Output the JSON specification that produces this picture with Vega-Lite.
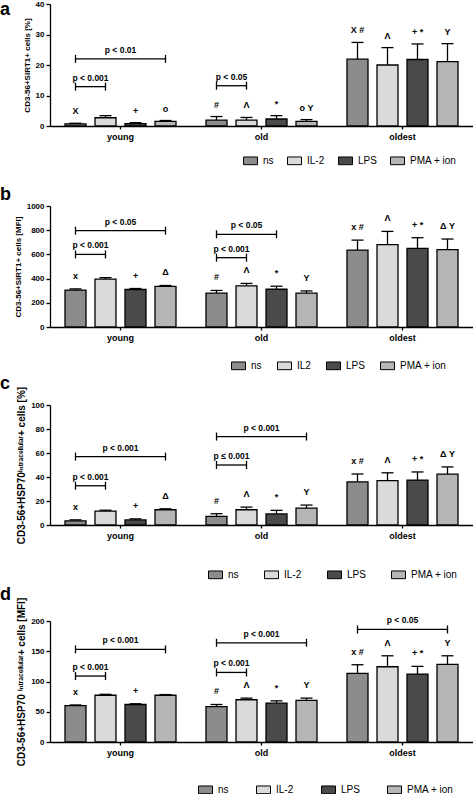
{
  "$schema": "https://vega.github.io/schema/vega-lite/v6.json",
  "padding": {"top": 0, "left": 0, "right": 0, "bottom": 0},
  "spacing": 0,
  "config": {
    "font": "Liberation Sans",
    "view": {"stroke": null},
    "axis": {"domainColor": "black", "tickColor": "black", "domainWidth": 1.3, "tickWidth": 1.3, "grid": false, "labelColor": "black", "titleColor": "black", "labelFontWeight": "bold", "titleFontWeight": "bold", "labelOverlap": false},
    "axisY": {"labelFontSize": 8, "tickSize": 4, "labelPadding": 2, "titleFontSize": 8, "titlePadding": 4, "format": "d"},
    "axisX": {"labelFontSize": 9, "tickSize": 3, "labelPadding": 3, "labelAngle": 0, "title": null},
    "legend": {"orient": "none", "direction": "horizontal", "title": null, "labelFontSize": 10, "labelColor": "black", "symbolType": "M-1,-0.55H1V0.55H-1Z", "symbolSize": 196, "symbolStrokeColor": "black", "symbolStrokeWidth": 1, "labelOffset": 5, "padding": 0},
    "title": {"anchor": "start", "frame": "group", "fontSize": 18, "fontWeight": "bold", "color": "black", "dx": -50}
  },
  "datasets": {
    "bars": [
      {"panel": "a", "group": "young", "treatment": "ns", "mean": 0.7, "upper": 0.9, "sym": "X"},
      {"panel": "a", "group": "young", "treatment": "IL-2", "mean": 2.7, "upper": 3.4, "sym": ""},
      {"panel": "a", "group": "young", "treatment": "LPS", "mean": 0.8, "upper": 1.1, "sym": "+"},
      {"panel": "a", "group": "young", "treatment": "PMA + ion", "mean": 1.5, "upper": 1.8, "sym": "o"},
      {"panel": "a", "group": "old", "treatment": "ns", "mean": 1.9, "upper": 3.1, "sym": "#"},
      {"panel": "a", "group": "old", "treatment": "IL-2", "mean": 1.9, "upper": 2.8, "sym": "Λ"},
      {"panel": "a", "group": "old", "treatment": "LPS", "mean": 2.3, "upper": 3.4, "sym": "*"},
      {"panel": "a", "group": "old", "treatment": "PMA + ion", "mean": 1.5, "upper": 2.1, "sym": "o Y"},
      {"panel": "a", "group": "oldest", "treatment": "ns", "mean": 21.9, "upper": 27.4, "sym": "X #"},
      {"panel": "a", "group": "oldest", "treatment": "IL-2", "mean": 20.0, "upper": 25.7, "sym": "Λ"},
      {"panel": "a", "group": "oldest", "treatment": "LPS", "mean": 21.8, "upper": 26.9, "sym": "+ *"},
      {"panel": "a", "group": "oldest", "treatment": "PMA + ion", "mean": 21.1, "upper": 27.0, "sym": "Y"},
      {"panel": "b", "group": "young", "treatment": "ns", "mean": 305, "upper": 315, "sym": "x"},
      {"panel": "b", "group": "young", "treatment": "IL-2", "mean": 395, "upper": 408, "sym": ""},
      {"panel": "b", "group": "young", "treatment": "LPS", "mean": 310, "upper": 318, "sym": "+"},
      {"panel": "b", "group": "young", "treatment": "PMA + ion", "mean": 335, "upper": 343, "sym": "Δ"},
      {"panel": "b", "group": "old", "treatment": "ns", "mean": 280, "upper": 302, "sym": "#"},
      {"panel": "b", "group": "old", "treatment": "IL-2", "mean": 340, "upper": 360, "sym": "Λ"},
      {"panel": "b", "group": "old", "treatment": "LPS", "mean": 312, "upper": 337, "sym": "*"},
      {"panel": "b", "group": "old", "treatment": "PMA + ion", "mean": 280, "upper": 298, "sym": "Y"},
      {"panel": "b", "group": "oldest", "treatment": "ns", "mean": 636, "upper": 718, "sym": "x #"},
      {"panel": "b", "group": "oldest", "treatment": "IL-2", "mean": 680, "upper": 790, "sym": "Λ"},
      {"panel": "b", "group": "oldest", "treatment": "LPS", "mean": 650, "upper": 738, "sym": "+ *"},
      {"panel": "b", "group": "oldest", "treatment": "PMA + ion", "mean": 640, "upper": 727, "sym": "Δ Y"},
      {"panel": "c", "group": "young", "treatment": "ns", "mean": 3.5, "upper": 4.3, "sym": "x"},
      {"panel": "c", "group": "young", "treatment": "IL-2", "mean": 11.5, "upper": 12.3, "sym": ""},
      {"panel": "c", "group": "young", "treatment": "LPS", "mean": 4.2, "upper": 5.1, "sym": "+"},
      {"panel": "c", "group": "young", "treatment": "PMA + ion", "mean": 12.7, "upper": 13.5, "sym": "Δ"},
      {"panel": "c", "group": "old", "treatment": "ns", "mean": 7.2, "upper": 9.4, "sym": "#"},
      {"panel": "c", "group": "old", "treatment": "IL-2", "mean": 12.7, "upper": 14.9, "sym": "Λ"},
      {"panel": "c", "group": "old", "treatment": "LPS", "mean": 9.2, "upper": 12.2, "sym": "*"},
      {"panel": "c", "group": "old", "treatment": "PMA + ion", "mean": 14.0, "upper": 16.6, "sym": "Y"},
      {"panel": "c", "group": "oldest", "treatment": "ns", "mean": 36.0, "upper": 42.5, "sym": "x #"},
      {"panel": "c", "group": "oldest", "treatment": "IL-2", "mean": 37.0, "upper": 43.5, "sym": "Λ"},
      {"panel": "c", "group": "oldest", "treatment": "LPS", "mean": 37.4, "upper": 44.2, "sym": "+ *"},
      {"panel": "c", "group": "oldest", "treatment": "PMA + ion", "mean": 42.4, "upper": 48.4, "sym": "Δ Y"},
      {"panel": "d", "group": "young", "treatment": "ns", "mean": 60.0, "upper": 61.2, "sym": "x"},
      {"panel": "d", "group": "young", "treatment": "IL-2", "mean": 77.3, "upper": 78.8, "sym": ""},
      {"panel": "d", "group": "young", "treatment": "LPS", "mean": 62.0, "upper": 63.2, "sym": "+"},
      {"panel": "d", "group": "young", "treatment": "PMA + ion", "mean": 77.3, "upper": 78.4, "sym": ""},
      {"panel": "d", "group": "old", "treatment": "ns", "mean": 58.6, "upper": 62.0, "sym": "#"},
      {"panel": "d", "group": "old", "treatment": "IL-2", "mean": 69.8, "upper": 72.5, "sym": "Λ"},
      {"panel": "d", "group": "old", "treatment": "LPS", "mean": 64.2, "upper": 68.0, "sym": "*"},
      {"panel": "d", "group": "old", "treatment": "PMA + ion", "mean": 68.8, "upper": 72.5, "sym": "Y"},
      {"panel": "d", "group": "oldest", "treatment": "ns", "mean": 113.4, "upper": 127.7, "sym": "x #"},
      {"panel": "d", "group": "oldest", "treatment": "IL-2", "mean": 124.4, "upper": 142.5, "sym": "Λ"},
      {"panel": "d", "group": "oldest", "treatment": "LPS", "mean": 112.3, "upper": 125.0, "sym": "+ *"},
      {"panel": "d", "group": "oldest", "treatment": "PMA + ion", "mean": 128.2, "upper": 142.5, "sym": "Y"}
    ],
    "brackets": [
      {"panel": "a", "id": "a1", "group": "young", "from": "ns", "to": "IL-2", "y": 12.9, "label": "p < 0.001"},
      {"panel": "a", "id": "a2", "group": "young", "from": "ns", "to": "PMA + ion", "y": 22.0, "label": "p < 0.01"},
      {"panel": "a", "id": "a3", "group": "old", "from": "ns", "to": "IL-2", "y": 13.2, "label": "p < 0.05"},
      {"panel": "b", "id": "b1", "group": "young", "from": "ns", "to": "IL-2", "y": 600, "label": "p < 0.001"},
      {"panel": "b", "id": "b2", "group": "young", "from": "ns", "to": "PMA + ion", "y": 796, "label": "p < 0.05"},
      {"panel": "b", "id": "b3", "group": "old", "from": "ns", "to": "IL-2", "y": 573, "label": "p < 0.001"},
      {"panel": "b", "id": "b4", "group": "old", "from": "ns", "to": "LPS", "y": 766, "label": "p < 0.05"},
      {"panel": "c", "id": "c1", "group": "young", "from": "ns", "to": "IL-2", "y": 32.7, "label": "p < 0.001"},
      {"panel": "c", "id": "c2", "group": "young", "from": "ns", "to": "PMA + ion", "y": 57.0, "label": "p < 0.001"},
      {"panel": "c", "id": "c3", "group": "old", "from": "ns", "to": "IL-2", "y": 50.0, "label": "p ≤ 0.001"},
      {"panel": "c", "id": "c4", "group": "old", "from": "ns", "to": "PMA + ion", "y": 73.7, "label": "p < 0.001"},
      {"panel": "d", "id": "d1", "group": "young", "from": "ns", "to": "IL-2", "y": 109, "label": "p < 0.001"},
      {"panel": "d", "id": "d2", "group": "young", "from": "ns", "to": "PMA + ion", "y": 153, "label": "p < 0.001"},
      {"panel": "d", "id": "d3", "group": "old", "from": "ns", "to": "IL-2", "y": 115, "label": "p < 0.001"},
      {"panel": "d", "id": "d4", "group": "old", "from": "ns", "to": "PMA + ion", "y": 164, "label": "p < 0.001"},
      {"panel": "d", "id": "d5", "group": "oldest", "from": "ns", "to": "PMA + ion", "y": 186, "label": "p < 0.05"}
    ]
  },
  "resolve": {"scale": {"fill": "independent", "y": "independent", "x": "independent", "xOffset": "independent"}, "legend": {"fill": "independent"}},
  "vconcat": [
    {
      "title": {"text": "a", "offset": -18.5},
      "width": 423, "height": 122,
      "layer": [
        {"data": {"name": "bars"}, "transform": [{"filter": "datum.panel === 'a'"}],
         "mark": {"type": "bar", "stroke": "black", "strokeWidth": 1.3},
         "encoding": {
           "x": {"field": "group", "type": "nominal", "scale": {"domain": ["young", "old", "oldest"], "paddingInner": 0, "paddingOuter": 0}},
           "xOffset": {"field": "treatment", "type": "nominal", "scale": {"domain": ["ns", "IL-2", "LPS", "PMA + ion"], "paddingInner": 0.3, "paddingOuter": 0.5}},
           "y": {"field": "mean", "type": "quantitative", "scale": {"domain": [0, 40], "nice": false}, "axis": {"values": [0, 10, 20, 30, 40], "title": "CD3-56+SIRT1+ cells [%]"}},
           "fill": {"field": "treatment", "type": "nominal", "scale": {"domain": ["ns", "IL-2", "LPS", "PMA + ion"], "range": ["#8c8c8c", "#dadada", "#4a4a4a", "#b5b5b5"]}, "legend": {"legendX": 174.4, "legendY": 130.4, "padding": 18.6, "fillColor": "transparent", "columnPadding": 11}}
         }},
        {"data": {"name": "bars"}, "transform": [{"filter": "datum.panel === 'a'"}],
         "mark": {"type": "rule", "color": "black", "strokeWidth": 1.3},
         "encoding": {
           "x": {"field": "group", "type": "nominal", "scale": {"domain": ["young", "old", "oldest"]}},
           "xOffset": {"field": "treatment", "type": "nominal", "scale": {"domain": ["ns", "IL-2", "LPS", "PMA + ion"]}},
           "y": {"field": "mean", "type": "quantitative", "scale": {"domain": [0, 40], "nice": false}, "axis": {"values": [0, 10, 20, 30, 40], "title": "CD3-56+SIRT1+ cells [%]"}},
           "y2": {"field": "upper"}
         }},
        {"data": {"name": "bars"}, "transform": [{"filter": "datum.panel === 'a'"}],
         "mark": {"type": "point", "shape": "M-1,0H1", "size": 144, "filled": false, "stroke": "black", "strokeWidth": 1.3, "opacity": 1},
         "encoding": {
           "x": {"field": "group", "type": "nominal", "scale": {"domain": ["young", "old", "oldest"]}},
           "xOffset": {"field": "treatment", "type": "nominal", "scale": {"domain": ["ns", "IL-2", "LPS", "PMA + ion"]}},
           "y": {"field": "upper", "type": "quantitative", "scale": {"domain": [0, 40], "nice": false}, "axis": {"values": [0, 10, 20, 30, 40], "title": "CD3-56+SIRT1+ cells [%]"}}
         }},
        {"data": {"name": "bars"}, "transform": [{"filter": "datum.panel === 'a'"}],
         "mark": {"type": "text", "fontSize": 9, "fontWeight": "bold", "dy": -12, "baseline": "middle", "color": "black"},
         "encoding": {
           "x": {"field": "group", "type": "nominal", "scale": {"domain": ["young", "old", "oldest"]}},
           "xOffset": {"field": "treatment", "type": "nominal", "scale": {"domain": ["ns", "IL-2", "LPS", "PMA + ion"]}},
           "y": {"field": "upper", "type": "quantitative", "scale": {"domain": [0, 40], "nice": false}, "axis": {"values": [0, 10, 20, 30, 40], "title": "CD3-56+SIRT1+ cells [%]"}},
           "text": {"field": "sym"}
         }},
        {"data": {"name": "brackets"}, "transform": [{"filter": "datum.panel === 'a'"}, {"fold": ["from", "to"], "as": ["end", "trt"]}],
         "mark": {"type": "line", "color": "black", "strokeWidth": 1.3},
         "encoding": {
           "x": {"field": "group", "type": "nominal", "scale": {"domain": ["young", "old", "oldest"]}},
           "xOffset": {"field": "trt", "type": "nominal", "scale": {"domain": ["ns", "IL-2", "LPS", "PMA + ion"]}},
           "y": {"field": "y", "type": "quantitative", "scale": {"domain": [0, 40], "nice": false}, "axis": {"values": [0, 10, 20, 30, 40], "title": "CD3-56+SIRT1+ cells [%]"}},
           "detail": {"field": "id"}
         }},
        {"data": {"name": "brackets"}, "transform": [{"filter": "datum.panel === 'a'"}, {"fold": ["from", "to"], "as": ["end", "trt"]}],
         "mark": {"type": "point", "shape": "M0,-1V1", "size": 64, "filled": false, "stroke": "black", "strokeWidth": 1.3, "opacity": 1},
         "encoding": {
           "x": {"field": "group", "type": "nominal", "scale": {"domain": ["young", "old", "oldest"]}},
           "xOffset": {"field": "trt", "type": "nominal", "scale": {"domain": ["ns", "IL-2", "LPS", "PMA + ion"]}},
           "y": {"field": "y", "type": "quantitative", "scale": {"domain": [0, 40], "nice": false}, "axis": {"values": [0, 10, 20, 30, 40], "title": "CD3-56+SIRT1+ cells [%]"}}
         }},
        {"data": {"name": "brackets"}, "transform": [{"filter": "datum.panel === 'a' && datum.to === 'IL-2'"}],
         "mark": {"type": "text", "fontSize": 8.5, "fontWeight": "bold", "dy": -9, "dx": 15, "baseline": "middle", "color": "black"},
         "encoding": {
           "x": {"field": "group", "type": "nominal", "scale": {"domain": ["young", "old", "oldest"]}},
           "xOffset": {"field": "from", "type": "nominal", "scale": {"domain": ["ns", "IL-2", "LPS", "PMA + ion"]}},
           "y": {"field": "y", "type": "quantitative", "scale": {"domain": [0, 40], "nice": false}, "axis": {"values": [0, 10, 20, 30, 40], "title": "CD3-56+SIRT1+ cells [%]"}},
           "text": {"field": "label"}
         }},
        {"data": {"name": "brackets"}, "transform": [{"filter": "datum.panel === 'a' && datum.to === 'PMA + ion'"}],
         "mark": {"type": "text", "fontSize": 8.5, "fontWeight": "bold", "dy": -9, "baseline": "middle", "color": "black"},
         "encoding": {
           "x": {"field": "group", "type": "nominal", "scale": {"domain": ["young", "old", "oldest"]}},
           "y": {"field": "y", "type": "quantitative", "scale": {"domain": [0, 40], "nice": false}, "axis": {"values": [0, 10, 20, 30, 40], "title": "CD3-56+SIRT1+ cells [%]"}},
           "text": {"field": "label"}
         }}
      ]
    },
    {
      "title": {"text": "b", "offset": -2},
      "width": 423, "height": 121,
      "layer": [
        {"data": {"name": "bars"}, "transform": [{"filter": "datum.panel === 'b'"}],
         "mark": {"type": "bar", "stroke": "black", "strokeWidth": 1.3},
         "encoding": {
           "x": {"field": "group", "type": "nominal", "scale": {"domain": ["young", "old", "oldest"], "paddingInner": 0, "paddingOuter": 0}},
           "xOffset": {"field": "treatment", "type": "nominal", "scale": {"domain": ["ns", "IL-2", "LPS", "PMA + ion"], "paddingInner": 0.3, "paddingOuter": 0.5}},
           "y": {"field": "mean", "type": "quantitative", "scale": {"domain": [0, 1000], "nice": false}, "axis": {"values": [0, 200, 400, 600, 800, 1000], "title": "CD3-56+SIRT1+ cells [MFI]"}},
           "fill": {"field": "treatment", "type": "nominal", "scale": {"domain": ["ns", "IL-2", "LPS", "PMA + ion"], "range": ["#8c8c8c", "#dadada", "#4a4a4a", "#b5b5b5"]}, "legend": {"legendX": 178, "legendY": 149, "padding": 3, "fillColor": "transparent", "columnPadding": 13, "labelExpr": "datum.label === 'IL-2' ? 'IL2' : datum.label"}}
         }},
        {"data": {"name": "bars"}, "transform": [{"filter": "datum.panel === 'b'"}],
         "mark": {"type": "rule", "color": "black", "strokeWidth": 1.3},
         "encoding": {
           "x": {"field": "group", "type": "nominal", "scale": {"domain": ["young", "old", "oldest"]}},
           "xOffset": {"field": "treatment", "type": "nominal", "scale": {"domain": ["ns", "IL-2", "LPS", "PMA + ion"]}},
           "y": {"field": "mean", "type": "quantitative", "scale": {"domain": [0, 1000], "nice": false}, "axis": {"values": [0, 200, 400, 600, 800, 1000], "title": "CD3-56+SIRT1+ cells [MFI]"}},
           "y2": {"field": "upper"}
         }},
        {"data": {"name": "bars"}, "transform": [{"filter": "datum.panel === 'b'"}],
         "mark": {"type": "point", "shape": "M-1,0H1", "size": 144, "filled": false, "stroke": "black", "strokeWidth": 1.3, "opacity": 1},
         "encoding": {
           "x": {"field": "group", "type": "nominal", "scale": {"domain": ["young", "old", "oldest"]}},
           "xOffset": {"field": "treatment", "type": "nominal", "scale": {"domain": ["ns", "IL-2", "LPS", "PMA + ion"]}},
           "y": {"field": "upper", "type": "quantitative", "scale": {"domain": [0, 1000], "nice": false}, "axis": {"values": [0, 200, 400, 600, 800, 1000], "title": "CD3-56+SIRT1+ cells [MFI]"}}
         }},
        {"data": {"name": "bars"}, "transform": [{"filter": "datum.panel === 'b'"}],
         "mark": {"type": "text", "fontSize": 9, "fontWeight": "bold", "dy": -13, "baseline": "middle", "color": "black"},
         "encoding": {
           "x": {"field": "group", "type": "nominal", "scale": {"domain": ["young", "old", "oldest"]}},
           "xOffset": {"field": "treatment", "type": "nominal", "scale": {"domain": ["ns", "IL-2", "LPS", "PMA + ion"]}},
           "y": {"field": "upper", "type": "quantitative", "scale": {"domain": [0, 1000], "nice": false}, "axis": {"values": [0, 200, 400, 600, 800, 1000], "title": "CD3-56+SIRT1+ cells [MFI]"}},
           "text": {"field": "sym"}
         }},
        {"data": {"name": "brackets"}, "transform": [{"filter": "datum.panel === 'b'"}, {"fold": ["from", "to"], "as": ["end", "trt"]}],
         "mark": {"type": "line", "color": "black", "strokeWidth": 1.3},
         "encoding": {
           "x": {"field": "group", "type": "nominal", "scale": {"domain": ["young", "old", "oldest"]}},
           "xOffset": {"field": "trt", "type": "nominal", "scale": {"domain": ["ns", "IL-2", "LPS", "PMA + ion"]}},
           "y": {"field": "y", "type": "quantitative", "scale": {"domain": [0, 1000], "nice": false}, "axis": {"values": [0, 200, 400, 600, 800, 1000], "title": "CD3-56+SIRT1+ cells [MFI]"}},
           "detail": {"field": "id"}
         }},
        {"data": {"name": "brackets"}, "transform": [{"filter": "datum.panel === 'b'"}, {"fold": ["from", "to"], "as": ["end", "trt"]}],
         "mark": {"type": "point", "shape": "M0,-1V1", "size": 64, "filled": false, "stroke": "black", "strokeWidth": 1.3, "opacity": 1},
         "encoding": {
           "x": {"field": "group", "type": "nominal", "scale": {"domain": ["young", "old", "oldest"]}},
           "xOffset": {"field": "trt", "type": "nominal", "scale": {"domain": ["ns", "IL-2", "LPS", "PMA + ion"]}},
           "y": {"field": "y", "type": "quantitative", "scale": {"domain": [0, 1000], "nice": false}, "axis": {"values": [0, 200, 400, 600, 800, 1000], "title": "CD3-56+SIRT1+ cells [MFI]"}}
         }},
        {"data": {"name": "brackets"}, "transform": [{"filter": "datum.panel === 'b' && datum.to === 'IL-2'"}],
         "mark": {"type": "text", "fontSize": 8.5, "fontWeight": "bold", "dy": -9, "dx": 15, "baseline": "middle", "color": "black"},
         "encoding": {
           "x": {"field": "group", "type": "nominal", "scale": {"domain": ["young", "old", "oldest"]}},
           "xOffset": {"field": "from", "type": "nominal", "scale": {"domain": ["ns", "IL-2", "LPS", "PMA + ion"]}},
           "y": {"field": "y", "type": "quantitative", "scale": {"domain": [0, 1000], "nice": false}, "axis": {"values": [0, 200, 400, 600, 800, 1000], "title": "CD3-56+SIRT1+ cells [MFI]"}},
           "text": {"field": "label"}
         }},
        {"data": {"name": "brackets"}, "transform": [{"filter": "datum.panel === 'b' && datum.to === 'PMA + ion'"}],
         "mark": {"type": "text", "fontSize": 8.5, "fontWeight": "bold", "dy": -9, "baseline": "middle", "color": "black"},
         "encoding": {
           "x": {"field": "group", "type": "nominal", "scale": {"domain": ["young", "old", "oldest"]}},
           "y": {"field": "y", "type": "quantitative", "scale": {"domain": [0, 1000], "nice": false}, "axis": {"values": [0, 200, 400, 600, 800, 1000], "title": "CD3-56+SIRT1+ cells [MFI]"}},
           "text": {"field": "label"}
         }},
        {"data": {"name": "brackets"}, "transform": [{"filter": "datum.panel === 'b' && datum.to === 'LPS'"}],
         "mark": {"type": "text", "fontSize": 8.5, "fontWeight": "bold", "dy": -9, "baseline": "middle", "color": "black"},
         "encoding": {
           "x": {"field": "group", "type": "nominal", "scale": {"domain": ["young", "old", "oldest"]}},
           "xOffset": {"datum": "IL-2", "type": "nominal", "scale": {"domain": ["ns", "IL-2", "LPS", "PMA + ion"]}},
           "y": {"field": "y", "type": "quantitative", "scale": {"domain": [0, 1000], "nice": false}, "axis": {"values": [0, 200, 400, 600, 800, 1000], "title": "CD3-56+SIRT1+ cells [MFI]"}},
           "text": {"field": "label"}
         }}
      ]
    },
    {
      "title": {"text": "c", "offset": -7},
      "width": 423, "height": 120,
      "layer": [
        {"data": {"name": "bars"}, "transform": [{"filter": "datum.panel === 'c'"}],
         "mark": {"type": "bar", "stroke": "black", "strokeWidth": 1.3},
         "encoding": {
           "x": {"field": "group", "type": "nominal", "scale": {"domain": ["young", "old", "oldest"], "paddingInner": 0, "paddingOuter": 0}},
           "xOffset": {"field": "treatment", "type": "nominal", "scale": {"domain": ["ns", "IL-2", "LPS", "PMA + ion"], "paddingInner": 0.3, "paddingOuter": 0.5}},
           "y": {"field": "mean", "type": "quantitative", "scale": {"domain": [0, 100], "nice": false}, "axis": {"values": [0, 20, 40, 60, 80, 100], "title": "CD3-56+HSP70ⁱⁿᵗʳᵃᶜᵉˡˡᵘˡᵃʳ+ cells [%]", "titleFontSize": 10}},
           "fill": {"field": "treatment", "type": "nominal", "scale": {"domain": ["ns", "IL-2", "LPS", "PMA + ion"], "range": ["#8c8c8c", "#dadada", "#4a4a4a", "#b5b5b5"]}, "legend": {"legendX": 153.4, "legendY": 157.4, "padding": 4.6, "fillColor": "transparent", "columnPadding": 23}}
         }},
        {"data": {"name": "bars"}, "transform": [{"filter": "datum.panel === 'c'"}],
         "mark": {"type": "rule", "color": "black", "strokeWidth": 1.3},
         "encoding": {
           "x": {"field": "group", "type": "nominal", "scale": {"domain": ["young", "old", "oldest"]}},
           "xOffset": {"field": "treatment", "type": "nominal", "scale": {"domain": ["ns", "IL-2", "LPS", "PMA + ion"]}},
           "y": {"field": "mean", "type": "quantitative", "scale": {"domain": [0, 100], "nice": false}, "axis": {"values": [0, 20, 40, 60, 80, 100], "title": "CD3-56+HSP70ⁱⁿᵗʳᵃᶜᵉˡˡᵘˡᵃʳ+ cells [%]", "titleFontSize": 10}},
           "y2": {"field": "upper"}
         }},
        {"data": {"name": "bars"}, "transform": [{"filter": "datum.panel === 'c'"}],
         "mark": {"type": "point", "shape": "M-1,0H1", "size": 144, "filled": false, "stroke": "black", "strokeWidth": 1.3, "opacity": 1},
         "encoding": {
           "x": {"field": "group", "type": "nominal", "scale": {"domain": ["young", "old", "oldest"]}},
           "xOffset": {"field": "treatment", "type": "nominal", "scale": {"domain": ["ns", "IL-2", "LPS", "PMA + ion"]}},
           "y": {"field": "upper", "type": "quantitative", "scale": {"domain": [0, 100], "nice": false}, "axis": {"values": [0, 20, 40, 60, 80, 100], "title": "CD3-56+HSP70ⁱⁿᵗʳᵃᶜᵉˡˡᵘˡᵃʳ+ cells [%]", "titleFontSize": 10}}
         }},
        {"data": {"name": "bars"}, "transform": [{"filter": "datum.panel === 'c'"}],
         "mark": {"type": "text", "fontSize": 9, "fontWeight": "bold", "dy": -13, "baseline": "middle", "color": "black"},
         "encoding": {
           "x": {"field": "group", "type": "nominal", "scale": {"domain": ["young", "old", "oldest"]}},
           "xOffset": {"field": "treatment", "type": "nominal", "scale": {"domain": ["ns", "IL-2", "LPS", "PMA + ion"]}},
           "y": {"field": "upper", "type": "quantitative", "scale": {"domain": [0, 100], "nice": false}, "axis": {"values": [0, 20, 40, 60, 80, 100], "title": "CD3-56+HSP70ⁱⁿᵗʳᵃᶜᵉˡˡᵘˡᵃʳ+ cells [%]", "titleFontSize": 10}},
           "text": {"field": "sym"}
         }},
        {"data": {"name": "brackets"}, "transform": [{"filter": "datum.panel === 'c'"}, {"fold": ["from", "to"], "as": ["end", "trt"]}],
         "mark": {"type": "line", "color": "black", "strokeWidth": 1.3},
         "encoding": {
           "x": {"field": "group", "type": "nominal", "scale": {"domain": ["young", "old", "oldest"]}},
           "xOffset": {"field": "trt", "type": "nominal", "scale": {"domain": ["ns", "IL-2", "LPS", "PMA + ion"]}},
           "y": {"field": "y", "type": "quantitative", "scale": {"domain": [0, 100], "nice": false}, "axis": {"values": [0, 20, 40, 60, 80, 100], "title": "CD3-56+HSP70ⁱⁿᵗʳᵃᶜᵉˡˡᵘˡᵃʳ+ cells [%]", "titleFontSize": 10}},
           "detail": {"field": "id"}
         }},
        {"data": {"name": "brackets"}, "transform": [{"filter": "datum.panel === 'c'"}, {"fold": ["from", "to"], "as": ["end", "trt"]}],
         "mark": {"type": "point", "shape": "M0,-1V1", "size": 64, "filled": false, "stroke": "black", "strokeWidth": 1.3, "opacity": 1},
         "encoding": {
           "x": {"field": "group", "type": "nominal", "scale": {"domain": ["young", "old", "oldest"]}},
           "xOffset": {"field": "trt", "type": "nominal", "scale": {"domain": ["ns", "IL-2", "LPS", "PMA + ion"]}},
           "y": {"field": "y", "type": "quantitative", "scale": {"domain": [0, 100], "nice": false}, "axis": {"values": [0, 20, 40, 60, 80, 100], "title": "CD3-56+HSP70ⁱⁿᵗʳᵃᶜᵉˡˡᵘˡᵃʳ+ cells [%]", "titleFontSize": 10}}
         }},
        {"data": {"name": "brackets"}, "transform": [{"filter": "datum.panel === 'c' && datum.to === 'IL-2'"}],
         "mark": {"type": "text", "fontSize": 8.5, "fontWeight": "bold", "dy": -9, "dx": 15, "baseline": "middle", "color": "black"},
         "encoding": {
           "x": {"field": "group", "type": "nominal", "scale": {"domain": ["young", "old", "oldest"]}},
           "xOffset": {"field": "from", "type": "nominal", "scale": {"domain": ["ns", "IL-2", "LPS", "PMA + ion"]}},
           "y": {"field": "y", "type": "quantitative", "scale": {"domain": [0, 100], "nice": false}, "axis": {"values": [0, 20, 40, 60, 80, 100], "title": "CD3-56+HSP70ⁱⁿᵗʳᵃᶜᵉˡˡᵘˡᵃʳ+ cells [%]", "titleFontSize": 10}},
           "text": {"field": "label"}
         }},
        {"data": {"name": "brackets"}, "transform": [{"filter": "datum.panel === 'c' && datum.to === 'PMA + ion'"}],
         "mark": {"type": "text", "fontSize": 8.5, "fontWeight": "bold", "dy": -9, "baseline": "middle", "color": "black"},
         "encoding": {
           "x": {"field": "group", "type": "nominal", "scale": {"domain": ["young", "old", "oldest"]}},
           "y": {"field": "y", "type": "quantitative", "scale": {"domain": [0, 100], "nice": false}, "axis": {"values": [0, 20, 40, 60, 80, 100], "title": "CD3-56+HSP70ⁱⁿᵗʳᵃᶜᵉˡˡᵘˡᵃʳ+ cells [%]", "titleFontSize": 10}},
           "text": {"field": "label"}
         }}
      ]
    },
    {
      "title": {"text": "d", "offset": -7},
      "width": 423, "height": 121,
      "layer": [
        {"data": {"name": "bars"}, "transform": [{"filter": "datum.panel === 'd'"}],
         "mark": {"type": "bar", "stroke": "black", "strokeWidth": 1.3},
         "encoding": {
           "x": {"field": "group", "type": "nominal", "scale": {"domain": ["young", "old", "oldest"], "paddingInner": 0, "paddingOuter": 0}},
           "xOffset": {"field": "treatment", "type": "nominal", "scale": {"domain": ["ns", "IL-2", "LPS", "PMA + ion"], "paddingInner": 0.3, "paddingOuter": 0.5}},
           "y": {"field": "mean", "type": "quantitative", "scale": {"domain": [0, 200], "nice": false}, "axis": {"values": [0, 50, 100, 150, 200], "title": "CD3-56+HSP70 ⁱⁿᵗʳᵃᶜᵉˡˡᵘˡᵃʳ+ cells [MFI]", "titleFontSize": 10}},
           "fill": {"field": "treatment", "type": "nominal", "scale": {"domain": ["ns", "IL-2", "LPS", "PMA + ion"], "range": ["#8c8c8c", "#dadada", "#4a4a4a", "#b5b5b5"]}, "legend": {"legendX": 148, "legendY": 161, "columnPadding": 25}}
         }},
        {"data": {"name": "bars"}, "transform": [{"filter": "datum.panel === 'd'"}],
         "mark": {"type": "rule", "color": "black", "strokeWidth": 1.3},
         "encoding": {
           "x": {"field": "group", "type": "nominal", "scale": {"domain": ["young", "old", "oldest"]}},
           "xOffset": {"field": "treatment", "type": "nominal", "scale": {"domain": ["ns", "IL-2", "LPS", "PMA + ion"]}},
           "y": {"field": "mean", "type": "quantitative", "scale": {"domain": [0, 200], "nice": false}, "axis": {"values": [0, 50, 100, 150, 200], "title": "CD3-56+HSP70 ⁱⁿᵗʳᵃᶜᵉˡˡᵘˡᵃʳ+ cells [MFI]", "titleFontSize": 10}},
           "y2": {"field": "upper"}
         }},
        {"data": {"name": "bars"}, "transform": [{"filter": "datum.panel === 'd'"}],
         "mark": {"type": "point", "shape": "M-1,0H1", "size": 144, "filled": false, "stroke": "black", "strokeWidth": 1.3, "opacity": 1},
         "encoding": {
           "x": {"field": "group", "type": "nominal", "scale": {"domain": ["young", "old", "oldest"]}},
           "xOffset": {"field": "treatment", "type": "nominal", "scale": {"domain": ["ns", "IL-2", "LPS", "PMA + ion"]}},
           "y": {"field": "upper", "type": "quantitative", "scale": {"domain": [0, 200], "nice": false}, "axis": {"values": [0, 50, 100, 150, 200], "title": "CD3-56+HSP70 ⁱⁿᵗʳᵃᶜᵉˡˡᵘˡᵃʳ+ cells [MFI]", "titleFontSize": 10}}
         }},
        {"data": {"name": "bars"}, "transform": [{"filter": "datum.panel === 'd'"}],
         "mark": {"type": "text", "fontSize": 9, "fontWeight": "bold", "dy": -13, "baseline": "middle", "color": "black"},
         "encoding": {
           "x": {"field": "group", "type": "nominal", "scale": {"domain": ["young", "old", "oldest"]}},
           "xOffset": {"field": "treatment", "type": "nominal", "scale": {"domain": ["ns", "IL-2", "LPS", "PMA + ion"]}},
           "y": {"field": "upper", "type": "quantitative", "scale": {"domain": [0, 200], "nice": false}, "axis": {"values": [0, 50, 100, 150, 200], "title": "CD3-56+HSP70 ⁱⁿᵗʳᵃᶜᵉˡˡᵘˡᵃʳ+ cells [MFI]", "titleFontSize": 10}},
           "text": {"field": "sym"}
         }},
        {"data": {"name": "brackets"}, "transform": [{"filter": "datum.panel === 'd'"}, {"fold": ["from", "to"], "as": ["end", "trt"]}],
         "mark": {"type": "line", "color": "black", "strokeWidth": 1.3},
         "encoding": {
           "x": {"field": "group", "type": "nominal", "scale": {"domain": ["young", "old", "oldest"]}},
           "xOffset": {"field": "trt", "type": "nominal", "scale": {"domain": ["ns", "IL-2", "LPS", "PMA + ion"]}},
           "y": {"field": "y", "type": "quantitative", "scale": {"domain": [0, 200], "nice": false}, "axis": {"values": [0, 50, 100, 150, 200], "title": "CD3-56+HSP70 ⁱⁿᵗʳᵃᶜᵉˡˡᵘˡᵃʳ+ cells [MFI]", "titleFontSize": 10}},
           "detail": {"field": "id"}
         }},
        {"data": {"name": "brackets"}, "transform": [{"filter": "datum.panel === 'd'"}, {"fold": ["from", "to"], "as": ["end", "trt"]}],
         "mark": {"type": "point", "shape": "M0,-1V1", "size": 64, "filled": false, "stroke": "black", "strokeWidth": 1.3, "opacity": 1},
         "encoding": {
           "x": {"field": "group", "type": "nominal", "scale": {"domain": ["young", "old", "oldest"]}},
           "xOffset": {"field": "trt", "type": "nominal", "scale": {"domain": ["ns", "IL-2", "LPS", "PMA + ion"]}},
           "y": {"field": "y", "type": "quantitative", "scale": {"domain": [0, 200], "nice": false}, "axis": {"values": [0, 50, 100, 150, 200], "title": "CD3-56+HSP70 ⁱⁿᵗʳᵃᶜᵉˡˡᵘˡᵃʳ+ cells [MFI]", "titleFontSize": 10}}
         }},
        {"data": {"name": "brackets"}, "transform": [{"filter": "datum.panel === 'd' && datum.to === 'IL-2'"}],
         "mark": {"type": "text", "fontSize": 8.5, "fontWeight": "bold", "dy": -9, "dx": 15, "baseline": "middle", "color": "black"},
         "encoding": {
           "x": {"field": "group", "type": "nominal", "scale": {"domain": ["young", "old", "oldest"]}},
           "xOffset": {"field": "from", "type": "nominal", "scale": {"domain": ["ns", "IL-2", "LPS", "PMA + ion"]}},
           "y": {"field": "y", "type": "quantitative", "scale": {"domain": [0, 200], "nice": false}, "axis": {"values": [0, 50, 100, 150, 200], "title": "CD3-56+HSP70 ⁱⁿᵗʳᵃᶜᵉˡˡᵘˡᵃʳ+ cells [MFI]", "titleFontSize": 10}},
           "text": {"field": "label"}
         }},
        {"data": {"name": "brackets"}, "transform": [{"filter": "datum.panel === 'd' && datum.to === 'PMA + ion'"}],
         "mark": {"type": "text", "fontSize": 8.5, "fontWeight": "bold", "dy": -9, "baseline": "middle", "color": "black"},
         "encoding": {
           "x": {"field": "group", "type": "nominal", "scale": {"domain": ["young", "old", "oldest"]}},
           "y": {"field": "y", "type": "quantitative", "scale": {"domain": [0, 200], "nice": false}, "axis": {"values": [0, 50, 100, 150, 200], "title": "CD3-56+HSP70 ⁱⁿᵗʳᵃᶜᵉˡˡᵘˡᵃʳ+ cells [MFI]", "titleFontSize": 10}},
           "text": {"field": "label"}
         }}
      ]
    }
  ]
}
